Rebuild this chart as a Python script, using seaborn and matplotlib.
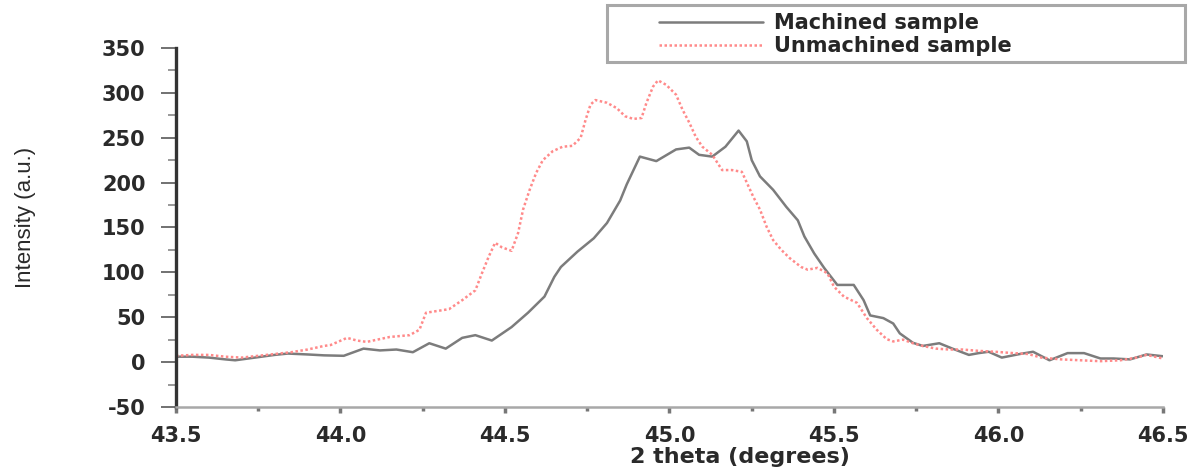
import matplotlib
matplotlib.use("Agg")
import matplotlib.pyplot as plt
from matplotlib.patches import Rectangle
from matplotlib.ticker import MultipleLocator
import seaborn as sns
import pandas as pd

# machined sample
theta_machined = [43.50, 43.55, 43.60, 43.65, 43.68, 43.72, 43.76, 43.80, 43.84, 43.90,
                  43.95, 44.01, 44.04, 44.07, 44.12, 44.17, 44.22, 44.27, 44.32, 44.37,
                  44.41, 44.46, 44.52, 44.57, 44.62, 44.65, 44.67, 44.72, 44.77, 44.81,
                  44.85, 44.87, 44.91, 44.96, 45.02, 45.06, 45.09, 45.13, 45.17, 45.21,
                  45.235, 45.25, 45.275, 45.315, 45.355, 45.39, 45.41, 45.44, 45.47, 45.51,
                  45.56, 45.59, 45.61, 45.65, 45.68, 45.70, 45.74, 45.77, 45.82, 45.86,
                  45.91, 45.94, 45.97, 46.01, 46.065, 46.105, 46.155, 46.21, 46.26, 46.31,
                  46.35, 46.40, 46.45, 46.50]
intensity_machined = [6, 6, 5, 3, 2, 4, 6, 8, 9.5, 8.5,
                      7.5, 7, 11, 15, 13, 14, 11, 21, 15, 27,
                      30, 24, 39, 55, 73, 95, 106, 123, 138, 155,
                      180, 198, 229, 224, 237, 239, 231, 229, 240, 258,
                      246, 225, 207, 192, 173, 158, 140, 121, 105, 86,
                      86, 69, 52, 49, 43, 32, 21.5, 18, 21, 15,
                      8, 10, 11.5, 5, 9, 11.5, 2, 10, 10, 4,
                      4, 3, 8.5, 6.5]

# unmachined sample
theta_unmachined = [43.50, 43.55, 43.60, 43.65, 43.70, 43.75, 43.80, 43.85, 43.90, 43.95,
                    43.97, 44.02, 44.05, 44.08, 44.15, 44.21, 44.24, 44.26, 44.33, 44.37,
                    44.41, 44.43, 44.45, 44.47, 44.49, 44.52, 44.54, 44.555, 44.575, 44.595,
                    44.615, 44.645, 44.675, 44.705, 44.73, 44.745, 44.76, 44.775, 44.81, 44.84,
                    44.865, 44.89, 44.915, 44.93, 44.95, 44.965, 44.99, 45.02, 45.04, 45.06,
                    45.08, 45.10, 45.13, 45.16, 45.19, 45.22, 45.235, 45.255, 45.275, 45.295,
                    45.315, 45.34, 45.365, 45.40, 45.42, 45.45, 45.48, 45.50, 45.53, 45.57,
                    45.60, 45.63, 45.66, 45.68, 45.71, 45.74, 45.77, 45.81, 45.85, 45.89,
                    45.94, 45.99, 46.045, 46.09, 46.13, 46.19, 46.25, 46.31, 46.37, 46.42,
                    46.45, 46.50]
intensity_unmachined = [7, 8, 8, 6, 5, 7, 9, 11, 14, 18,
                        19, 27, 24, 22.5, 28, 30, 36, 55, 59, 69,
                        80, 99, 117, 133, 128, 124, 144, 170, 192, 211,
                        225, 235, 240, 241, 250, 270, 287, 292, 289, 283,
                        274, 271, 272, 289, 307, 314, 309, 298, 281, 267,
                        251, 240, 231, 214, 214, 212, 200, 184, 170, 151,
                        136, 125, 116, 106, 103, 105, 99, 84, 73, 66,
                        49, 36, 25.6, 23, 25, 21, 18, 15, 14, 14,
                        12.5, 11.5, 10, 9, 5, 3, 2, 1, 2, 5,
                        8, 4]

labels = ["Machined sample", "Unmachined sample"]
x_ticks = [43.5, 44.0, 44.5, 45.0, 45.5, 46.0, 46.5]
y_ticks = [-50, 0, 50, 100, 150, 200, 250, 300, 350]

df = pd.concat([
    pd.DataFrame({"theta": theta_machined, "intensity": intensity_machined, "sample": labels[0]}),
    pd.DataFrame({"theta": theta_unmachined, "intensity": intensity_unmachined, "sample": labels[1]}),
])

sns.set_style("ticks")
plt.rcParams["font.family"] = ["DejaVu Sans"]
plt.rcParams["axes.unicode_minus"] = False

fig = plt.figure(figsize=(11.97, 4.71), dpi=100)
ax = fig.add_axes([0.147, 0.136, 0.8246, 0.762])

sns.lineplot(data=df, x="theta", y="intensity", hue="sample", style="sample",
             palette={labels[0]: "#7c7c7c", labels[1]: "#ff8a8a"},
             dashes={labels[0]: "", labels[1]: (1, 1)},
             estimator=None, sort=False, linewidth=1.8, ax=ax)

handles, lbls = ax.get_legend_handles_labels()
ax.get_legend().remove()

ax.set_xlim(43.5, 46.5)
ax.set_ylim(-50, 350)
ax.set_xticks(x_ticks)
ax.set_xticklabels([f"{t:.1f}" for t in x_ticks])
ax.set_yticks(y_ticks)
ax.xaxis.set_minor_locator(MultipleLocator(0.25))
ax.yaxis.set_minor_locator(MultipleLocator(25))

sns.despine(ax=ax)
ax.spines["left"].set_color("#333333")
ax.spines["left"].set_linewidth(2.4)
ax.spines["bottom"].set_color("#a8a8a8")
ax.spines["bottom"].set_linewidth(1.8)

ax.tick_params(axis="y", which="major", direction="out", length=11, width=1.3,
               color="#666666", pad=11, labelsize=15, labelcolor="#2a2a2a")
ax.tick_params(axis="y", which="minor", direction="out", length=6, width=1.2, color="#888888")
ax.tick_params(axis="x", which="major", direction="out", length=4, width=2.5,
               color="#777777", pad=10, labelsize=15, labelcolor="#2a2a2a")
ax.tick_params(axis="x", which="minor", direction="out", length=3, width=2.5, color="#777777")
for lab in ax.get_xticklabels() + ax.get_yticklabels():
    lab.set_fontweight("bold")

ax.set_xlabel("2 theta (degrees)", fontsize=16, fontweight="bold", color="#2a2a2a")
ax.xaxis.set_label_coords(0.571, -0.112)
ax.set_ylabel("Intensity (a.u.)", fontsize=16, color="#2a2a2a",
              family=["Liberation Sans", "DejaVu Sans"])
ax.yaxis.set_label_coords(-0.142, 0.527)

# legend box sits above the axes, top right
fig.patches.append(Rectangle((0.507, 1 - 62 / 471), 578 / 1197, 57 / 471,
                             transform=fig.transFigure, fill=False,
                             edgecolor="#a8a8a8", linewidth=2.2))
fig.legend(handles, lbls, loc="upper left", bbox_to_anchor=(0.549, 0.976),
           frameon=False, handlelength=5.0, handletextpad=0.5,
           labelspacing=0.12, borderpad=0.1, borderaxespad=0,
           prop={"weight": "bold", "size": 15})

fig.savefig("out.png", dpi=100)
